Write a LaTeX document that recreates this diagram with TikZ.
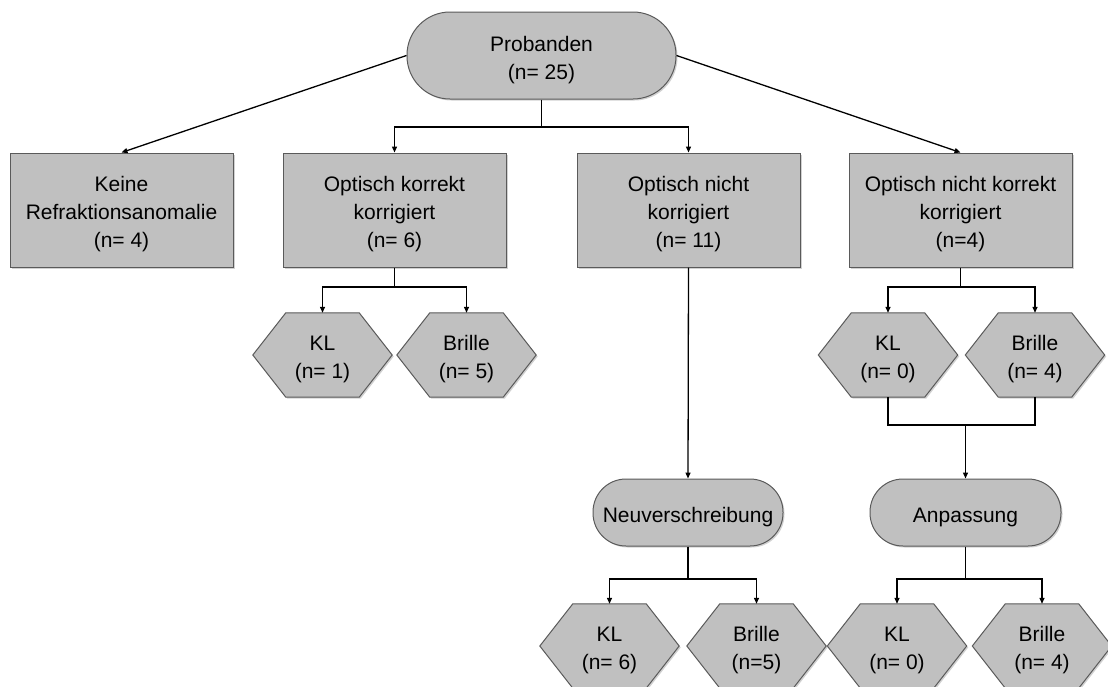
\documentclass[tikz,border=0pt]{standalone}
\usepackage{fontspec}
\setmainfont{Liberation Sans}
\usetikzlibrary{arrows.meta,shadows,backgrounds}

\definecolor{boxfill}{RGB}{192,192,192}
\definecolor{boxline}{RGB}{90,90,90}

\tikzset{
  txt/.style={font=\fontsize{21}{28}\selectfont, align=center, inner sep=0pt},
  t/.style={label={[txt,yshift=-4.5pt]center:{#1}}},
  soft/.style={drop shadow={shadow xshift=1.5pt, shadow yshift=-1.5pt, fill=black, opacity=0.18}},
  figshape/.style={draw=boxline, fill=boxfill, line width=1pt, soft},
  box/.style={figshape, rectangle, inner sep=0pt, minimum width=223pt, minimum height=114pt},
  pill/.style={figshape, rectangle, inner sep=0pt, rounded corners=#1},
  hexnode/.style={rectangle, inner sep=0pt, minimum width=139pt, minimum height=84pt},
  link/.style={line width=1.3pt, black},
  arr/.style={link, -{Triangle[length=6pt,width=5pt]}},
}

% hexagon outline drawn behind a hexnode, using its anchors
\newcommand\hexframe[1]{%
  \begin{scope}[on background layer]
    \path[figshape] (#1.west) -- ([xshift=33pt]#1.north west) -- ([xshift=-33pt]#1.north east)
      -- (#1.east) -- ([xshift=-33pt]#1.south east) -- ([xshift=33pt]#1.south west) -- cycle;
  \end{scope}}

\begin{document}
\begin{tikzpicture}[x=1pt,y=-1pt]
  \useasboundingbox (0,0) rectangle (1108,686);
  \begin{scope}[on background layer]
    \fill[white] (0,0) rectangle (1108,686);
  \end{scope}

  % top
  \node[pill=43pt, minimum width=269pt, minimum height=87pt, t={Probanden\\(n= 25)}] (prob) at (541.5,55.5) {};

  % first level
  \node[box, t={Keine\\Refraktionsanomalie\\(n= 4)}] (keine) at (121.5,210) {};
  \node[box, t={Optisch korrekt\\korrigiert\\(n= 6)}] (opk) at (394.5,210) {};
  \node[box, t={Optisch nicht\\korrigiert\\(n= 11)}] (opn) at (688.5,210) {};
  \node[box, t={Optisch nicht korrekt\\korrigiert\\(n=4)}] (onk) at (960.5,210) {};

  % second level
  \node[hexnode, t={KL\\(n= 1)}] (h1) at (322.5,355) {}; \hexframe{h1}
  \node[hexnode, t={Brille\\(n= 5)}] (h2) at (466.5,355) {}; \hexframe{h2}
  \node[hexnode, t={KL\\(n= 0)}] (h3) at (888,355) {}; \hexframe{h3}
  \node[hexnode, t={Brille\\(n= 4)}] (h4) at (1035,355) {}; \hexframe{h4}

  % measures
  \node[pill=33pt, minimum width=190pt, minimum height=67pt, t={Neuverschreibung}] (neu) at (688,512.5) {};
  \node[pill=33pt, minimum width=191pt, minimum height=67pt, t={Anpassung}] (anp) at (965.5,512.5) {};

  % outcome
  \node[hexnode, t={KL\\(n= 6)}] (h5) at (609.5,646) {}; \hexframe{h5}
  \node[hexnode, t={Brille\\(n=5)}] (h6) at (756.5,646) {}; \hexframe{h6}
  \node[hexnode, t={KL\\(n= 0)}] (h7) at (897,646) {}; \hexframe{h7}
  \node[hexnode, t={Brille\\(n= 4)}] (h8) at (1042,646) {}; \hexframe{h8}

  % junction points
  \coordinate (j0) at (541.5,127);
  \coordinate (j1) at (394.5,287);
  \coordinate (j2) at (960.5,287);
  \coordinate (j3) at (965.5,425);
  \coordinate (j4) at (688,579);
  \coordinate (j5) at (965.5,579);

  % connectors
  \draw[arr] (prob.west) -- (keine.north);
  \draw[arr] (prob.east) -- (onk.north);
  \draw[link] (prob.south) -- (j0);
  \draw[arr] (j0) -| (opk.north);
  \draw[arr] (j0) -| (opn.north);

  \draw[link] (opk.south) -- (j1);
  \draw[arr] (j1) -| (h1.north);
  \draw[arr] (j1) -| (h2.north);

  \draw[arr] (opn.south) -- (neu.north);

  \draw[link] (onk.south) -- (j2);
  \draw[arr] (j2) -| (h3.north);
  \draw[arr] (j2) -| (h4.north);
  \draw[link] (h3.south) |- (j3);
  \draw[link] (h4.south) |- (j3);
  \draw[arr] (j3) -- (anp.north);

  \draw[link] (neu.south) -- (j4);
  \draw[arr] (j4) -| (h5.north);
  \draw[arr] (j4) -| (h6.north);

  \draw[link] (anp.south) -- (j5);
  \draw[arr] (j5) -| (h7.north);
  \draw[arr] (j5) -| (h8.north);
\end{tikzpicture}
\end{document}
